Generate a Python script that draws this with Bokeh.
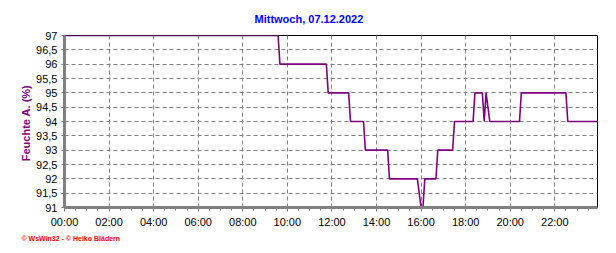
from bokeh.plotting import figure
from bokeh.models import Range1d, FixedTicker, Title
from bokeh.embed import file_html
from bokeh.resources import INLINE

# ---- data ----
times = ["00:00", "09:35", "09:40", "11:45", "11:50", "12:45", "12:50", "13:25", "13:30",
         "14:30", "14:35", "15:50", "16:00", "16:05", "16:10", "16:40", "16:45", "17:25",
         "17:30", "18:20", "18:25", "18:45", "18:50", "18:55", "19:00", "19:05", "20:25",
         "20:30", "22:30", "22:35", "23:55"]
humidity = [97, 97, 96, 96, 95, 95, 94, 94, 93,
            93, 92, 92, 91, 91, 92, 92, 93, 93,
            94, 94, 95, 95, 94, 95, 94.5, 94, 94,
            95, 95, 94, 94]

x_ticks = [0, 2, 4, 6, 8, 10, 12, 14, 16, 18, 20, 22]
x_tick_labels = ["00:00", "02:00", "04:00", "06:00", "08:00", "10:00",
                 "12:00", "14:00", "16:00", "18:00", "20:00", "22:00"]
y_ticks = [91, 91.5, 92, 92.5, 93, 93.5, 94, 94.5, 95, 95.5, 96, 96.5, 97]
y_tick_labels = ["91", "91,5", "92", "92,5", "93", "93,5", "94", "94,5",
                 "95", "95,5", "96", "96,5", "97"]

title_text = "Mittwoch, 07.12.2022"
y_label = "Feuchte A.  (%)"
footer_text = "\u00a9 WsWin32 - \u00a9 Heiko Bl\u00e4dern"

hours = [int(t[:2]) + int(t[3:]) / 60 for t in times]

FONT = "Liberation Sans"

p = figure(width=616, height=253, output_backend="svg", toolbar_location=None,
           x_range=Range1d(0, 23 + 55 / 60), y_range=Range1d(91, 97),
           min_border_left=64, min_border_right=19, min_border_top=35, min_border_bottom=46)

p.background_fill_color = "white"
p.border_fill_color = "white"
p.outline_line_color = "black"
p.outline_line_width = 1

p.line(hours, humidity, line_color="#800080", line_width=1.6)

# title
p.title.text = title_text
p.title.align = "left"
p.title.offset = 190
p.title.text_font = FONT
p.title.text_font_size = "11px"
p.title.text_font_style = "bold"
p.title.text_color = "#0000ff"
p.title.standoff = 21

footer = Title(text=footer_text, align="left", offset=-43, text_font=FONT,
               text_font_size="7px", text_font_style="bold", text_color="#ff0000", standoff=4)
p.add_layout(footer, "below")

# x axis
xa = p.xaxis[0]
xa.ticker = FixedTicker(ticks=x_ticks, minor_ticks=[i / 2 for i in range(0, 48)])
xa.major_label_overrides = dict(zip(x_ticks, x_tick_labels))
xa.axis_line_color = "#808080"
xa.axis_line_width = 3
xa.major_tick_line_color = "#808080"
xa.minor_tick_line_color = "#808080"
xa.major_tick_out = 4
xa.major_tick_in = 0
xa.minor_tick_out = 3
xa.minor_tick_in = 0
xa.major_label_standoff = 4
xa.major_label_text_font = FONT
xa.major_label_text_font_size = "11px"
xa.major_label_text_color = "black"

# y axis
ya = p.yaxis[0]
ya.ticker = FixedTicker(ticks=y_ticks, minor_ticks=[])
ya.major_label_overrides = dict(zip(y_ticks, y_tick_labels))
ya.axis_line_color = "#808080"
ya.axis_line_width = 3
ya.major_tick_line_color = "#808080"
ya.major_tick_out = 3
ya.major_tick_in = 0
ya.minor_tick_line_color = None
ya.major_label_standoff = 4
ya.major_label_text_font = FONT
ya.major_label_text_font_size = "11px"
ya.major_label_text_color = "black"
ya.axis_label = y_label
ya.axis_label_text_font = FONT
ya.axis_label_text_font_size = "11px"
ya.axis_label_text_font_style = "bold"
ya.axis_label_text_color = "#800080"
ya.axis_label_standoff = 1

# grids
p.xgrid.ticker = FixedTicker(ticks=x_ticks)
p.ygrid.ticker = FixedTicker(ticks=y_ticks)
for g in (p.xgrid, p.ygrid):
    g.grid_line_color = "#808080"
    g.grid_line_dash = "4 3"
    g.grid_line_width = 1

open("out.html", "w").write(file_html(p, INLINE))
